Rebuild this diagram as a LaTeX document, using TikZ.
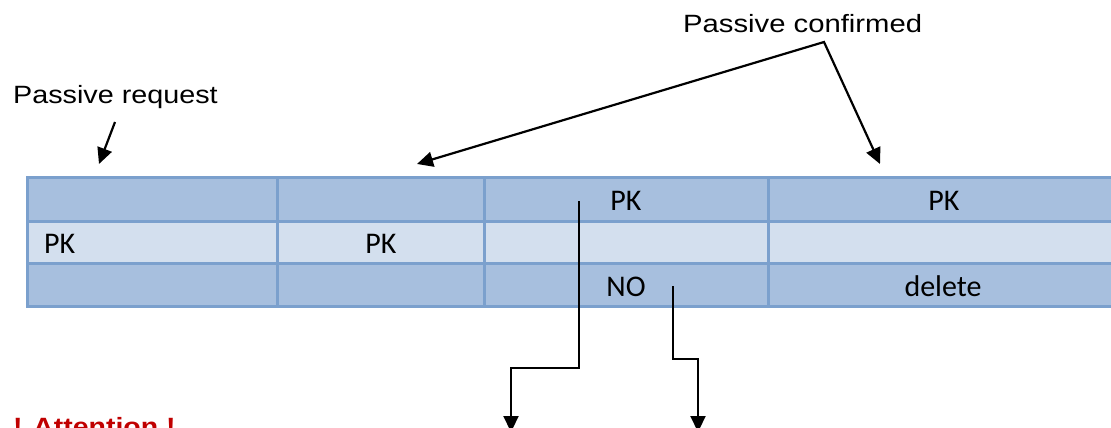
\documentclass[tikz,border=0pt]{standalone}
\usepackage{fontspec}
\setmainfont{Carlito}
\newfontfamily\arialfont{Liberation Sans}
\usetikzlibrary{arrows.meta}
\definecolor{cellDark}{HTML}{A7BFDE}
\definecolor{cellLight}{HTML}{D3DFEE}
\definecolor{gridLine}{HTML}{7BA0CD}
\definecolor{alertRed}{HTML}{C00000}

\begin{document}
\begin{tikzpicture}[x=1pt,y=-1pt,
  cell/.style={font=\fontsize{30}{36}\selectfont, inner sep=0pt, anchor=base},
  note/.style={font=\arialfont\fontsize{25}{30}\selectfont, inner sep=0pt, anchor=base west},
  rule/.style={gridLine, line width=3pt},
  pointer/.style={line width=2.2pt, -{Triangle[length=16pt,width=15pt]}},
  twoway/.style={line width=2.2pt, {Triangle[length=16pt,width=15pt]}-{Triangle[length=16pt,width=15pt]}}]
\useasboundingbox (0,0) rectangle (1111,428);
\clip (0,0) rectangle (1111,428);

% row bands of the table
\fill[cellDark]  (27,177) rectangle (1120,221);
\fill[cellLight] (27,221) rectangle (1120,263);
\fill[cellDark]  (27,263) rectangle (1120,306);

% grid lines
\draw[rule] (27,177) rectangle (1120,306);
\foreach \y in {221,263} \draw[rule] (27,\y) -- (1120,\y);
\foreach \x in {277,484,768} \draw[rule] (\x,177) -- (\x,306);

% cell entries
\node[cell] (pkA) at (626,210) {PK};
\node[cell] (pkB) at (944,210) {PK};
\node[cell, anchor=base west] (pkC) at (44,253) {PK};
\node[cell] (pkD) at (381,253) {PK};
\node[cell] (noE) at (626,296) {NO};
\node[cell] (delF) at (943,296) {delete};

% labels
\node[note] (req) at (13,103) {\scalebox{1.15}[1]{Passive request}};
\node[note] (conf) at (683,33) {\scalebox{1.17}[1]{Passive confirmed}};
\node[note, font=\arialfont\bfseries\fontsize{25}{30}\selectfont, text=alertRed] (attn) at (13,435) {\scalebox{1.14}[1]{! Attention !}};

% connector end points
\coordinate (reqFrom) at (115,122);
\coordinate (reqTo)   at (99,164);
\coordinate (apex)    at (824,42);
\coordinate (confL)   at (417,164);
\coordinate (confR)   at (880,164);
\coordinate (pkSrc)   at (579,201);
\coordinate (pkStep)  at (511,368);
\coordinate (pkDst)   at (511,432);
\coordinate (noSrc)   at (673,286);
\coordinate (noStep)  at (698,359);
\coordinate (noDst)   at (698,432);

% connectors
\draw[pointer] (reqFrom) -- (reqTo);
\draw[twoway] (confL) -- (apex) -- (confR);
\draw[pointer] (pkSrc) |- (pkStep) -- (pkDst);
\draw[pointer] (noSrc) |- (noStep) -- (noDst);
\end{tikzpicture}
\end{document}
